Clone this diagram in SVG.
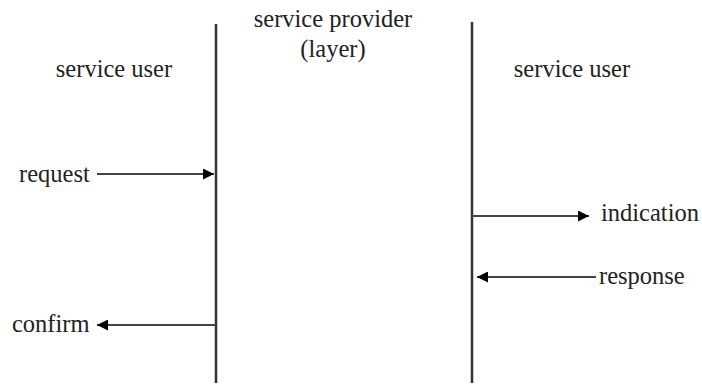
<svg xmlns="http://www.w3.org/2000/svg" width="702" height="385" viewBox="0 0 702 385">
<style>
text{font-family:"Liberation Serif","Times New Roman",serif;font-size:24.5px;fill:#222}
.life{stroke:#333;stroke-width:2.5;fill:none}
.msg{stroke:#444;stroke-width:2;fill:none}
</style>
<defs>
<marker id="ah" viewBox="0 0 10 10" refX="10" refY="5" markerWidth="13" markerHeight="11" markerUnits="userSpaceOnUse" orient="auto">
<path d="M0,0 L10,5 L0,10 Z" fill="#000"/>
</marker>
</defs>
<rect width="702" height="385" fill="#fff"/>
<g id="user-left">
<text x="114" y="77" text-anchor="middle">service user</text>
<line class="life" x1="216" y1="24" x2="216" y2="383"/>
</g>
<g id="provider">
<text x="333" y="27" text-anchor="middle">service provider</text>
<text x="333" y="57" text-anchor="middle">(layer)</text>
</g>
<g id="user-right">
<text x="572" y="77" text-anchor="middle">service user</text>
<line class="life" x1="472" y1="22" x2="472" y2="383"/>
</g>
<g id="labels">
<text x="19" y="182">request</text>
<text x="12" y="332">confirm</text>
<text x="601" y="221">indication</text>
<text x="599" y="284">response</text>
</g>
<g id="connectors">
<line class="msg" x1="97" y1="174" x2="214" y2="174" marker-end="url(#ah)"/>
<line class="msg" x1="216" y1="325" x2="97" y2="325" marker-end="url(#ah)"/>
<line class="msg" x1="472" y1="216" x2="589" y2="216" marker-end="url(#ah)"/>
<line class="msg" x1="596" y1="277" x2="477" y2="277" marker-end="url(#ah)"/>
</g>
</svg>
